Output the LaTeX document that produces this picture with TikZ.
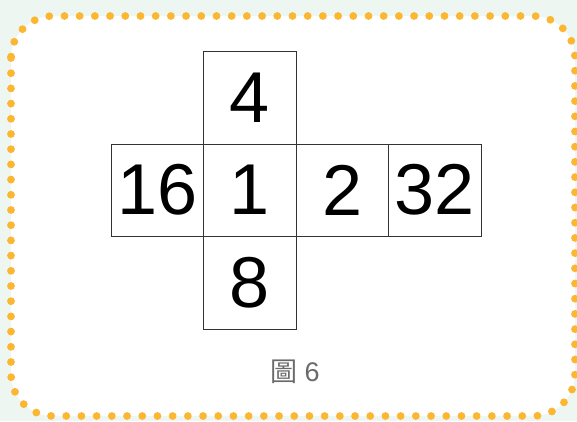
\documentclass[tikz,border=0pt]{standalone}
\usepackage{fontspec}
\setmainfont{Liberation Sans}
\newfontfamily\cjk{Noto Sans CJK TC}
\definecolor{bgc}{HTML}{EEF6F1}
\definecolor{dotc}{HTML}{FBB731}
\definecolor{capc}{HTML}{6A6A6A}
\begin{document}
\begin{tikzpicture}[x=1pt,y=-1pt,
  cell/.style={draw=black!80,line width=0.9pt,minimum width=92.5pt,minimum height=92.5pt,inner sep=0pt,anchor=north west,font=\fontsize{72}{74}\selectfont},
  frame/.style={draw=dotc,line width=7.8pt,line cap=round,dash pattern=on 0pt off 15.2pt,rounded corners=42pt,fill=white}]
\fill[bgc] (0,0) rectangle (577,421);
\useasboundingbox (0,0) rectangle (577,421);
\draw[frame] (11,16) rectangle (575,416);
\node[cell] (c4) at (203,51) {4};
\node[cell] (c16) at (110.5,143.5) {16};
\node[cell] (c1) at (203,143.5) {1};
\node[cell] (c2) at (295.5,143.5) {2};
\node[cell] (c32) at (388,143.5) {32};
\node[cell] (c8) at (203,236) {8};
\node[text=capc,font=\fontsize{27}{29}\selectfont] (cap) at (295,372) {{\cjk 圖} 6};
\end{tikzpicture}
\end{document}
